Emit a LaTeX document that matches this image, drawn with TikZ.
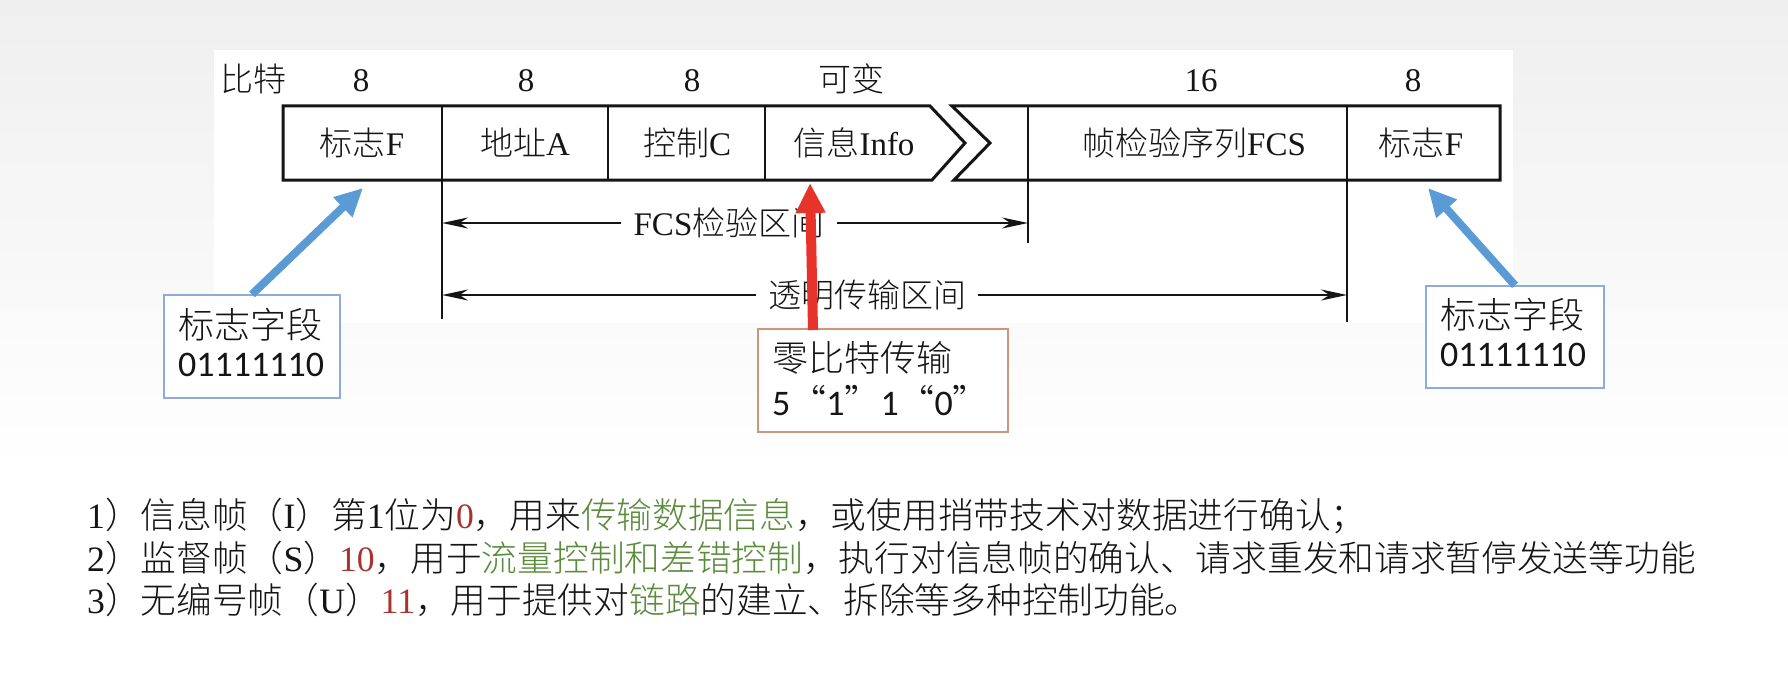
\documentclass[tikz,border=0pt]{standalone}
\usepackage{fontspec}
\setmainfont{Liberation Serif}
\newfontfamily\zh{Noto Sans CJK SC Light}
\newfontfamily\calib{Carlito}
\usetikzlibrary{arrows.meta}

\definecolor{pagegray}{HTML}{EFEFEF}
\definecolor{inkblack}{HTML}{151515}
\definecolor{pblue}{HTML}{5B9BD5}
\definecolor{pred}{HTML}{E8332A}
\definecolor{boxblue}{HTML}{8FAADC}
\definecolor{boxtan}{HTML}{C9977A}
\definecolor{txtred}{HTML}{A8322D}
\definecolor{txtgreen}{HTML}{5B8C3C}

\newcommand{\hlred}[1]{\textcolor{txtred}{#1}}
\newcommand{\hlgreen}[1]{\textcolor{txtgreen}{\zh #1}}

\begin{document}
\begin{tikzpicture}[x=1pt,y=-1pt,
  framepart/.style={draw=inkblack, line width=3pt, line join=miter},
  divider/.style={draw=inkblack, line width=2pt},
  lbl/.style={font=\fontsize{33}{40}\selectfont, text=inkblack, inner sep=0pt, anchor=base},
  ival/.style={font=\fontsize{33}{40}\selectfont, text=inkblack, inner xsep=12pt, inner ysep=0pt},
  spanarrow/.style={draw=inkblack, line width=2pt, -{Stealth[length=26pt,width=11pt]}},
  callout/.style={draw, fill=white, line width=1.3pt, align=left, inner xsep=14pt,
    inner ysep=0pt, text=inkblack},
  bluearrow/.style={draw=pblue, line width=8pt, -{Triangle[length=28pt,width=26pt]}},
  redarrow/.style={draw=pred, line width=10pt, -{Triangle[length=30pt,width=28pt]}},
  noteline/.style={font=\fontsize{35.7}{42}\selectfont, text=inkblack, inner sep=0pt, anchor=base west}
]
\useasboundingbox (0,0) rectangle (1788,682);

% slide background and the white figure panel
\shade[top color=pagegray, bottom color=white] (0,0) rectangle (1788,470);
\fill[white] (0,470) rectangle (1788,682);
\fill[white] (214,50) rectangle (1513,323);

% frame outline: left part ending in a chevron, right part starting with one
\draw[framepart] (283,106) -- (930,106) -- (965,143) -- (932,180) -- (283,180) -- cycle;
\draw[framepart] (952,106) -- (1500,106) -- (1500,180) -- (954,180) -- (990,143) -- cycle;

% field dividers (some run down to mark the interval ends)
\draw[divider] (442,106) -- (442,319);
\draw[divider] (608,106) -- (608,180);
\draw[divider] (765,106) -- (765,180);
\draw[divider] (1028,106) -- (1028,243);
\draw[divider] (1347,106) -- (1347,322);

% bit counts
\node[lbl] (bits) at (253,92) {\zh 比特};
\node[lbl] (b1) at (361,92) {8};
\node[lbl] (b2) at (526,92) {8};
\node[lbl] (b3) at (692,92) {8};
\node[lbl] (b4) at (851,92) {\zh 可变};
\node[lbl] (b5) at (1201,92) {16};
\node[lbl] (b6) at (1413,92) {8};

% field names
\node[lbl] (fflag) at (362,156) {{\zh 标志}F};
\node[lbl] (faddr) at (525,156) {{\zh 地址}A};
\node[lbl] (fctrl) at (687,156) {{\zh 控制}C};
\node[lbl] (finfo) at (854,156) {{\zh 信息}Info};
\node[lbl] (ffcs) at (1194,156) {{\zh 帧检验序列}FCS};
\node[lbl] (fflag2) at (1421,156) {{\zh 标志}F};

% interval arrows
\coordinate (fcsL) at (442,223);
\coordinate (fcsR) at (1028,223);
\node[ival] (fcs) at (729,223) {FCS{\zh 检验区间}};
\draw[spanarrow] (fcs.west) -- (fcsL);
\draw[spanarrow] (fcs.east) -- (fcsR);

\coordinate (trL) at (442,295);
\coordinate (trR) at (1347,295);
\node[ival] (trans) at (867,295) {\zh 透明传输区间};
\draw[spanarrow] (trans.west) -- (trL);
\draw[spanarrow] (trans.east) -- (trR);

% callout boxes
\node[callout, draw=boxblue, font=\fontsize{36}{38}\selectfont,
      minimum width=176pt, minimum height=103pt, text width=148pt]
  (lbox) at (252,346.5) {{\zh 标志字段}\\{\calib 01111110}\rule[-9pt]{0pt}{0pt}};
\node[callout, draw=boxblue, font=\fontsize{36}{38}\selectfont,
      minimum width=178pt, minimum height=102pt, text width=150pt]
  (rbox) at (1515,337) {{\zh 标志字段}\\{\calib 01111110}\rule[-9pt]{0pt}{0pt}};
\node[callout, draw=boxtan, font=\fontsize{36}{44}\selectfont,
      minimum width=250pt, minimum height=103pt, text width=222pt]
  (mbox) at (883,380.5) {{\zh 零比特传输}\\{\calib 5}{\zh “}{\calib 1}{\zh ”}{\calib 1}{\zh “}{\calib 0}{\zh ”}\rule[-4pt]{0pt}{0pt}};

% pointers from the callouts to the frame
\coordinate (ltip) at (363,188);
\coordinate (rtip) at (1428,188);
\coordinate (mtip) at (810,183);
\coordinate (mstart) at (813,330);
\draw[bluearrow] (lbox.north) -- (ltip);
\draw[bluearrow] (rbox.north) -- (rtip);
\draw[redarrow] (mstart) -- (mtip);

% frame type notes
\node[noteline] (n1) at (87,528) {1{\zh ）信息帧（}I{\zh ）第}1{\zh 位为}\hlred{0}{\zh ，用来}\hlgreen{传输数据信息}{\zh ，或使用捎带技术对数据进行确认；}};
\node[noteline] (n2) at (87,571.5) {2{\zh ）监督帧（}S{\zh ）}\hlred{10}{\zh ，用于}\hlgreen{流量控制和差错控制}{\zh ，执行对信息帧的确认、请求重发和请求暂停发送等功能}};
\node[noteline] (n3) at (87,613.5) {3{\zh ）无编号帧（}U{\zh ）}\hlred{11}{\zh ，用于提供对}\hlgreen{链路}{\zh 的建立、拆除等多种控制功能。}};
\end{tikzpicture}
\end{document}
